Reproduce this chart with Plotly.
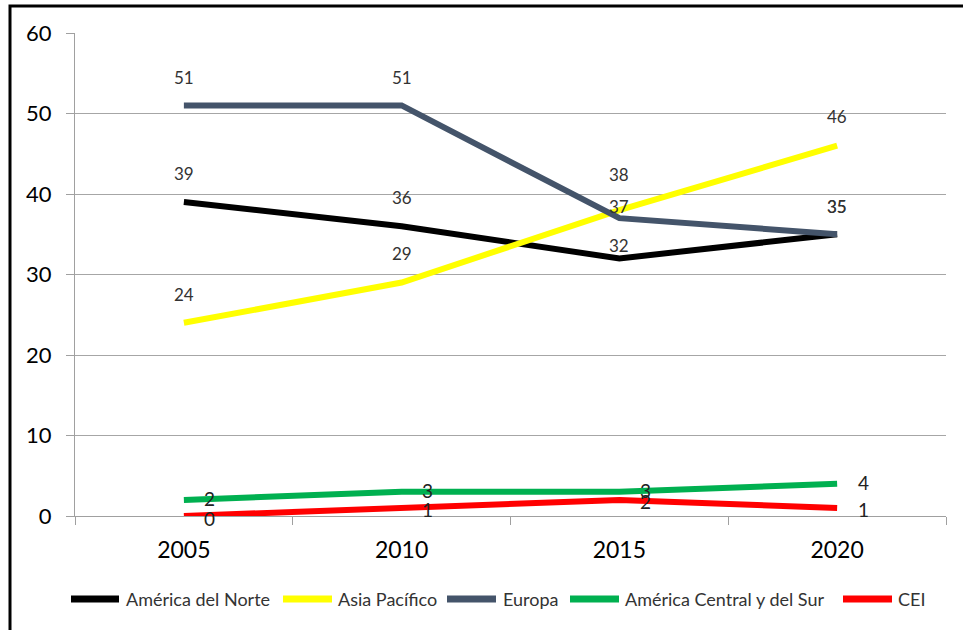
import plotly.graph_objects as go

years = ["2005", "2010", "2015", "2020"]
america_norte = [39, 36, 32, 35]
asia_pacifico = [24, 29, 38, 46]
europa = [51, 51, 37, 35]
america_cs = [2, 3, 3, 4]
cei = [0, 1, 2, 1]

series = [
    ("América del Norte", america_norte, "#000000"),
    ("Asia Pacífico", asia_pacifico, "#ffff00"),
    ("Europa", europa, "#44546a"),
    ("América Central y del Sur", america_cs, "#00b050"),
    ("CEI", cei, "#ff0000"),
]

FONT = "Lato, 'Open Sans', sans-serif"
fig = go.Figure()
for name, vals, col in series:
    fig.add_trace(go.Scatter(x=list(range(len(years))), y=vals, name=name, mode="lines",
                             line=dict(color=col, width=6), hoverinfo="skip",
                             showlegend=False))

annotations = []
above_shift = {
    "América del Norte": [29, 29, 13, 28],
    "Asia Pacífico": [28, 29, 36, 29],
    "Europa": [28, 28, 12, 28],
}
for name, vals, col in series[:3]:
    for i, v in enumerate(vals):
        annotations.append(dict(x=i, y=v, text=str(v), showarrow=False,
                                yshift=above_shift[name][i],
                                font=dict(family=FONT, size=17, color="#333333")))
for name, vals, col in series[3:]:
    for i, v in enumerate(vals):
        annotations.append(dict(x=i, y=v, text=str(v), showarrow=False,
                                xshift=26, yshift=-2 if name == "CEI" else 1,
                                font=dict(family=FONT, size=19, color="#222222")))

L, R, T, B = 75, 17, 33, 114
W, H = 963, 630
pw, ph = W - L - R, H - T - B

def px_x(p):
    return (p - L) / pw

def px_y(p):
    return (T + ph - p) / ph

# manual legend (line sample + label), positions in pixels
legend_pos = [(68, 122, 124), (280, 335, 336), (444, 499, 501), (567, 622, 623), (840, 895, 896)]
shapes = []
for (name, vals, col), (x0, x1, tx) in zip(series, legend_pos):
    shapes.append(dict(type="line", xref="paper", yref="paper",
                       x0=px_x(x0 + 3), x1=px_x(x1 - 3), y0=px_y(599), y1=px_y(599),
                       line=dict(color=col, width=7)))
    annotations.append(dict(xref="paper", yref="paper", x=px_x(tx), y=px_y(599),
                            xanchor="left", yanchor="middle", text=name, showarrow=False,
                            font=dict(family=FONT, size=18, color="#333333")))

shapes.append(dict(type="rect", xref="paper", yref="paper",
                   x0=px_x(10), x1=px_x(975), y0=px_y(640), y1=px_y(6),
                   line=dict(color="black", width=3), layer="above"))

fig.update_layout(
    width=W, height=H,
    margin=dict(l=L, r=R, t=T, b=B),
    paper_bgcolor="white", plot_bgcolor="white",
    font=dict(family=FONT, color="#000000"),
    showlegend=False,
    annotations=annotations,
    shapes=shapes,
)
fig.update_xaxes(range=[-0.5, 3.5], tickmode="array", tickvals=list(range(len(years))),
                 ticktext=years, ticks="", showline=True, linecolor="#a0a0a0", linewidth=1,
                 showgrid=False, zeroline=False,
                 tickfont=dict(family=FONT, size=23, color="#000"),
                 ticklabelstandoff=13)
fig.update_xaxes(minor=dict(tickmode="array", tickvals=[-0.5, 0.5, 1.5, 2.5, 3.5],
                            ticks="outside", ticklen=8, tickcolor="#a0a0a0", showgrid=False))
fig.update_yaxes(range=[0, 60], dtick=10, ticks="outside", ticklen=8,
                 tickcolor="#a0a0a0", showline=True, linecolor="#a0a0a0",
                 linewidth=1, showgrid=True, gridcolor="#a6a6a6", gridwidth=1,
                 zeroline=False, tickfont=dict(family=FONT, size=22, color="#000"),
                 ticklabelstandoff=10)

fig.write_html("out.html")
